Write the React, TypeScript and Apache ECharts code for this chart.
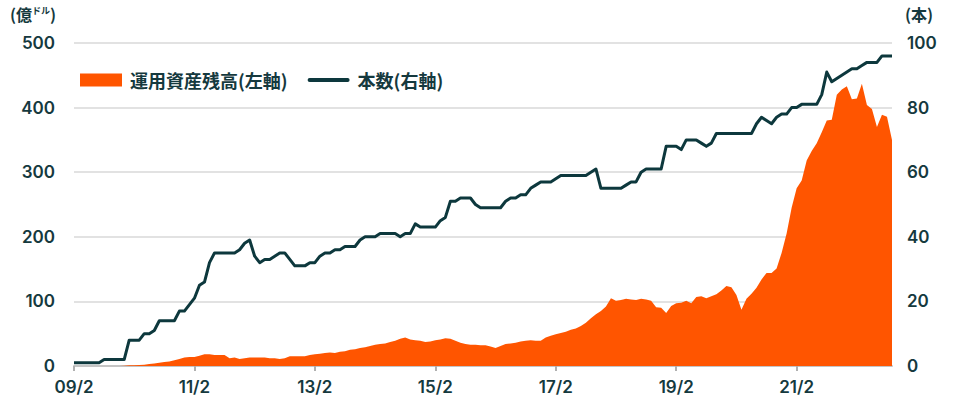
import React, { useEffect, useRef } from 'react';
import * as echarts from 'echarts';

// 運用資産残高（億ドル）2009/2〜2022/9 月次
const assetValues = [
  0, 0, 0, 0, 0, 0, 0, 0, 0, 0, 0.5, 1,
  1, 1.5, 2, 3, 4, 5, 6, 7, 9, 11, 13, 14,
  14, 16, 18, 18, 17, 17, 17, 12, 13, 11, 12, 13,
  13, 13, 13, 12, 12, 11, 12, 15, 15, 15, 15, 17,
  18, 19, 20, 21, 20, 22, 23, 25, 26, 28, 29, 31,
  33, 34, 35, 37, 39, 42, 44, 41, 40, 39, 37, 38,
  40, 41, 43, 42, 39, 36, 34, 33, 33, 32, 32, 30,
  28, 31, 34, 35, 36, 38, 39, 40, 39, 39, 44, 47,
  49, 51, 53, 56, 58, 62, 67, 74, 80, 85, 92, 105,
  101, 102, 104, 103, 102, 104, 103, 101, 91, 90, 82, 93,
  97, 98, 101, 97, 107, 108, 105, 108, 111, 117, 124, 122,
  110, 87, 104, 112, 121, 134, 144, 144, 151, 175, 205, 245,
  275, 287, 318, 333, 345, 362, 380, 381, 420, 428, 433, 413,
  414, 437, 404, 398, 370, 389, 386, 350,
];

// 本数
const countValues = [
  1, 1, 1, 1, 1, 1, 2, 2, 2, 2, 2, 8,
  8, 8, 10, 10, 11, 14, 14, 14, 14, 17, 17, 19,
  21, 25, 26, 32, 35, 35, 35, 35, 35, 36, 38, 39,
  34, 32, 33, 33, 34, 35, 35, 33, 31, 31, 31, 32,
  32, 34, 35, 35, 36, 36, 37, 37, 37, 39, 40, 40,
  40, 41, 41, 41, 41, 40, 41, 41, 44, 43, 43, 43,
  43, 45, 46, 51, 51, 52, 52, 52, 50, 49, 49, 49,
  49, 49, 51, 52, 52, 53, 53, 55, 56, 57, 57, 57,
  58, 59, 59, 59, 59, 59, 59, 60, 61, 55, 55, 55,
  55, 55, 56, 57, 57, 60, 61, 61, 61, 61, 68, 68,
  68, 67, 70, 70, 70, 69, 68, 69, 72, 72, 72, 72,
  72, 72, 72, 72, 75, 77, 76, 75, 77, 78, 78, 80,
  80, 81, 81, 81, 81, 84, 91, 88, 89, 90, 91, 92,
  92, 93, 94, 94, 94, 96, 96, 96,
];

// 月ラベル（YY/M）
const months: string[] = [];
for (let i = 0; i < assetValues.length; i++) {
  const m = 1 + i; // 2009/2 から
  const year = 2009 + Math.floor(m / 12);
  const month = (m % 12) + 1;
  months.push(`${String(year % 100).padStart(2, '0')}/${month}`);
}

const seriesNames = ['運用資産残高(左軸)', '本数(右軸)'];

const TEXT = '#15393e';
const FONT = '"Noto Sans CJK JP", sans-serif';
const NUM_FONT = 'Inter, "Noto Sans", sans-serif';

const App: React.FC = () => {
  const chartRef = useRef<HTMLDivElement>(null);

  useEffect(() => {
    const chart = echarts.init(chartRef.current!, undefined, { renderer: 'svg' });

    const every24 = (i: number) => i % 24 === 0;
    const numLabel = { fontSize: 17, fontWeight: 600, color: TEXT, fontFamily: NUM_FONT };

    const option = {
      animation: false,
      textStyle: { fontFamily: FONT },
      grid: { left: 74, right: 68, top: 43, bottom: 35 },
      legend: {
        left: 75,
        top: 66,
        itemWidth: 42,
        itemHeight: 13,
        itemGap: 20,
        textStyle: { fontSize: 18, color: TEXT, fontFamily: FONT, fontWeight: 'bold', padding: [0, 0, 0, 3] },
        data: [
          { name: seriesNames[0], icon: 'rect' },
          { name: seriesNames[1], icon: 'path://M2,0H40A2,2 0 0 1 40,4H2A2,2 0 0 1 2,0Z' },
        ],
      },
      graphic: [
        {
          type: 'text',
          left: 10,
          top: 6,
          style: {
            text: '{a|(億}{b|ドル}{a|)}',
            rich: {
              a: { fontSize: 16, fontWeight: 'bold', fill: TEXT, fontFamily: FONT },
              b: { fontSize: 9, fontWeight: 'bold', fill: TEXT, fontFamily: FONT, verticalAlign: 'top' },
            },
          },
        },
        {
          type: 'text',
          left: 905,
          top: 6,
          style: { text: '(本)', fontSize: 16, fontWeight: 'bold', fill: TEXT, fontFamily: FONT },
        },
      ],
      xAxis: {
        type: 'category',
        data: months,
        boundaryGap: false,
        axisLine: { lineStyle: { color: '#c4c4c4', width: 2 } },
        axisTick: { show: true, interval: every24, length: 5, lineStyle: { color: '#b0b0b0', width: 2 } },
        axisLabel: { interval: every24, margin: 12, ...numLabel },
        splitLine: { show: false },
      },
      yAxis: [
        {
          type: 'value',
          min: 0,
          max: 500,
          interval: 100,
          axisLine: { show: false },
          axisTick: { show: false },
          axisLabel: { margin: 19, ...numLabel },
          splitLine: { lineStyle: { color: '#e2e2e2', width: 2 } },
        },
        {
          type: 'value',
          min: 0,
          max: 100,
          interval: 20,
          axisLine: { show: false },
          axisTick: { show: false },
          axisLabel: { margin: 15, ...numLabel },
          splitLine: { show: false },
        },
      ],
      series: [
        {
          name: seriesNames[0],
          type: 'line',
          yAxisIndex: 0,
          data: assetValues,
          symbol: 'none',
          itemStyle: { color: '#ff5500' },
          lineStyle: { width: 0 },
          areaStyle: { color: '#ff5500', opacity: 1 },
        },
        {
          name: seriesNames[1],
          type: 'line',
          yAxisIndex: 1,
          data: countValues,
          symbol: 'none',
          itemStyle: { color: '#0d383d' },
          lineStyle: { width: 3, color: '#0d383d', join: 'round' },
        },
      ],
    };

    chart.setOption(option);

    return () => {
      chart.dispose();
    };
  }, []);

  return (
    <div
      ref={chartRef}
      style={{ position: 'fixed', left: 0, top: 0, width: '960px', height: '401px', background: '#fff' }}
    />
  );
};

export default App;
